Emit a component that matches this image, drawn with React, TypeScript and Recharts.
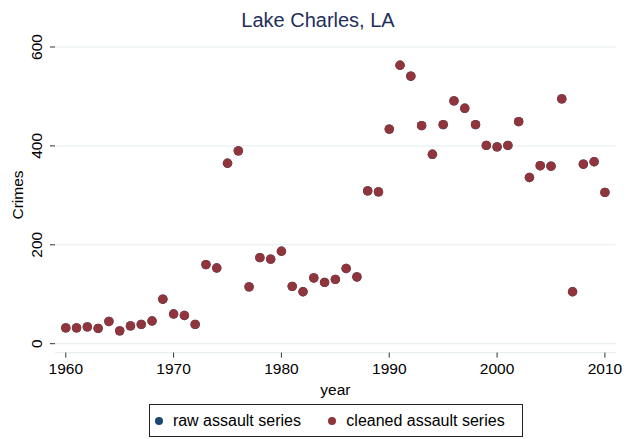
import { ScatterChart, Scatter, XAxis, YAxis, CartesianGrid, Legend, Label } from 'recharts';

const years = [
  1960, 1961, 1962, 1963, 1964, 1965, 1966, 1967, 1968, 1969,
  1970, 1971, 1972, 1973, 1974, 1975, 1976, 1977, 1978, 1979,
  1980, 1981, 1982, 1983, 1984, 1985, 1986, 1987, 1988, 1989,
  1990, 1991, 1992, 1993, 1994, 1995, 1996, 1997, 1998, 1999,
  2000, 2001, 2002, 2003, 2004, 2005, 2006, 2007, 2008, 2009, 2010,
];

// raw series sits underneath the cleaned one (same values)
const rawAssault = [
  32, 32, 34, 31, 45, 26, 36, 39, 46, 90,
  60, 57, 39, 160, 153, 365, 390, 115, 174, 171,
  187, 116, 105, 133, 124, 130, 152, 135, 309, 307,
  434, 563, 541, 441, 383, 443, 491, 476, 443, 401,
  398, 401, 449, 336, 360, 359, 495, 105, 363, 368, 306,
];

const cleanedAssault = [
  32, 32, 34, 31, 45, 26, 36, 39, 46, 90,
  60, 57, 39, 160, 153, 365, 390, 115, 174, 171,
  187, 116, 105, 133, 124, 130, 152, 135, 309, 307,
  434, 563, 541, 441, 383, 443, 491, 476, 443, 401,
  398, 401, 449, 336, 360, 359, 495, 105, 363, 368, 306,
];

const xTicks = [1960, 1970, 1980, 1990, 2000, 2010];
const yTicks = [0, 200, 400, 600];

const rawData = years.map((year, i) => ({ year, crimes: rawAssault[i] }));
const cleanedData = years.map((year, i) => ({ year, crimes: cleanedAssault[i] }));

const FONT = '"Liberation Sans", Arial, Helvetica, sans-serif';
const NAVY = '#1a476f';
const MAROON = '#90353b';

const dot = (color: string) => (props: any) => (
  <circle cx={props.cx} cy={props.cy} r={4.7} fill={color} />
);

const YTick = (props: any) => {
  const { y, payload } = props;
  return (
    <text
      x={42}
      y={y}
      transform={`rotate(-90, 42, ${y})`}
      textAnchor="middle"
      fontSize={15.5}
      fontFamily={FONT}
      fill="#000"
    >
      {payload.value}
    </text>
  );
};

const LegendBox = () => (
  <div style={{ display: 'flex', justifyContent: 'center' }}>
    <div
      style={{
        width: 374,
        height: 33,
        boxSizing: 'border-box',
        border: '1px solid #222',
        display: 'flex',
        alignItems: 'center',
        paddingLeft: 5,
        fontFamily: FONT,
        fontSize: 16,
        color: '#000',
        background: '#fff',
      }}
    >
      <span style={{ width: 8, height: 8, borderRadius: 4, background: NAVY, marginRight: 10.4 }} />
      <span>raw assault series</span>
      <span style={{ width: 8, height: 8, borderRadius: 4, background: MAROON, marginLeft: 27, marginRight: 10.4 }} />
      <span>cleaned assault series</span>
    </div>
  </div>
);

export default function App() {
  return (
    <div style={{ position: 'absolute', left: 0, top: 0, width: 636, height: 439, background: '#fff' }}>
      <div
        style={{
          position: 'absolute',
          top: 9,
          left: 0,
          width: 636,
          textAlign: 'center',
          fontFamily: FONT,
          fontSize: 20,
          lineHeight: '23px',
          color: '#1e2f5a',
        }}
      >
        Lake Charles, LA
      </div>
      <ScatterChart width={636} height={439} margin={{ top: 47, right: 20.3, bottom: 2, left: 15 }}>
        <CartesianGrid vertical={false} stroke="#e3ecef" strokeWidth={1} />
        <XAxis
          type="number"
          dataKey="year"
          domain={[1959, 2011]}
          ticks={xTicks}
          height={51.4}
          axisLine={false}
          tickSize={5}
          tickMargin={5}
          tickLine={{ stroke: '#333' }}
          tick={{ fill: '#000', fontSize: 15.5, fontFamily: FONT }}
          allowDataOverflow
        >
          <Label
            content={() => (
              <text x={335.4} y={395} textAnchor="middle" fontSize={15.5} fontFamily={FONT} fill="#000">
                year
              </text>
            )}
          />
        </XAxis>
        <YAxis
          type="number"
          dataKey="crimes"
          domain={[-18, 600]}
          ticks={yTicks}
          width={40}
          axisLine={false}
          tickSize={5}
          tickLine={{ stroke: '#333' }}
          tick={<YTick />}
          allowDataOverflow
        >
          <Label
            content={() => (
              <text
                x={23}
                y={195}
                transform="rotate(-90, 23, 195)"
                textAnchor="middle"
                fontSize={15.5}
                fontFamily={FONT}
                fill="#000"
              >
                Crimes
              </text>
            )}
          />
        </YAxis>
        <Legend
          verticalAlign="bottom"
          content={() => <LegendBox />}
          wrapperStyle={{ left: 55, width: 561 }}
        />
        <Scatter name="raw assault series" data={rawData} fill={NAVY} shape={dot(NAVY)} isAnimationActive={false} />
        <Scatter name="cleaned assault series" data={cleanedData} fill={MAROON} shape={dot(MAROON)} isAnimationActive={false} />
      </ScatterChart>
    </div>
  );
}
